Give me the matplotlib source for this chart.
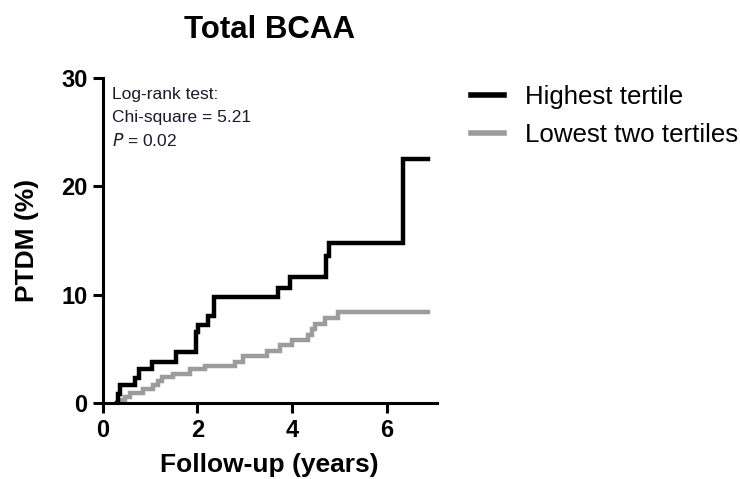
import numpy as np
import matplotlib.pyplot as plt

plt.rcParams['font.family'] = ['Liberation Sans', 'DejaVu Sans']

# Kaplan-Meier style cumulative incidence
high_t = [0.30, 0.33, 0.36, 0.68, 0.76, 1.04, 1.54, 1.98, 2.02, 2.22, 2.36, 3.70, 3.96, 4.72, 4.78, 6.34, 6.87]
high_v = [0.0, 0.8, 1.6, 2.3, 3.1, 3.8, 4.7, 6.5, 7.2, 8.0, 9.8, 10.6, 11.6, 13.6, 14.8, 22.5, 22.5]

low_t = [0.38, 0.40, 0.47, 0.58, 0.86, 1.07, 1.17, 1.25, 1.49, 1.84, 2.16, 2.79, 2.97, 3.46,
         3.74, 3.99, 4.34, 4.42, 4.48, 4.69, 4.97, 6.87]
low_v = [0.0, 0.25, 0.55, 0.93, 1.24, 1.64, 2.0, 2.4, 2.7, 3.1, 3.4, 3.8, 4.3, 4.8,
         5.3, 5.8, 6.3, 6.8, 7.3, 7.8, 8.35, 8.35]

xticks = [0, 2, 4, 6]
yticks = [0, 10, 20, 30]
stats_lines = ['Log-rank test:', 'Chi-square = 5.21', '$\\it{P}$ = 0.02']

fig = plt.figure(figsize=(7.4, 4.79), dpi=100)
ax = fig.add_axes([0.1388, 0.1593, 0.4512, 0.6772])

ax.step(high_t, high_v, where='post', color='black', lw=3.2, label='Highest tertile',
        solid_joinstyle='miter', zorder=3)
ax.step(low_t, low_v, where='post', color='#9c9c9c', lw=3.2, label='Lowest two tertiles',
        solid_joinstyle='miter', zorder=2)

ax.set_xlim(0, 7.05)
ax.set_ylim(0, 30)
ax.set_xticks(xticks)
ax.set_yticks(yticks)
for s in ['top', 'right']:
    ax.spines[s].set_visible(False)
for s in ['left', 'bottom']:
    ax.spines[s].set_linewidth(2.2)
ax.tick_params(width=2.2, length=7, labelsize=17)
ax.tick_params(axis='x', pad=5)
ax.tick_params(axis='y', pad=4)
for lab in ax.get_xticklabels() + ax.get_yticklabels():
    lab.set_fontweight('bold')

ax.set_xlabel('Follow-up (years)', fontsize=19, fontweight='bold', labelpad=8)
ax.set_ylabel('PTDM (%)', fontsize=19, fontweight='bold', labelpad=16)
ax.set_title('Total BCAA', fontsize=22.5, fontweight='bold', pad=29)

# stats box, one line per text
for i, s in enumerate(stats_lines):
    ax.text(0.028, 0.9516 - i * 0.0709, s, transform=ax.transAxes, ha='left',
            va='center', fontsize=12.5, color='#1a1a2a')

leg = ax.legend(loc='upper left', bbox_to_anchor=(0.636, 0.823), bbox_transform=fig.transFigure,
                frameon=False, fontsize=18.6, handlelength=1.3, handletextpad=0.8,
                borderpad=0, borderaxespad=0, labelspacing=0.56)
for h in leg.get_lines():
    h.set_linewidth(4)

fig.savefig('out.png', dpi=100)
